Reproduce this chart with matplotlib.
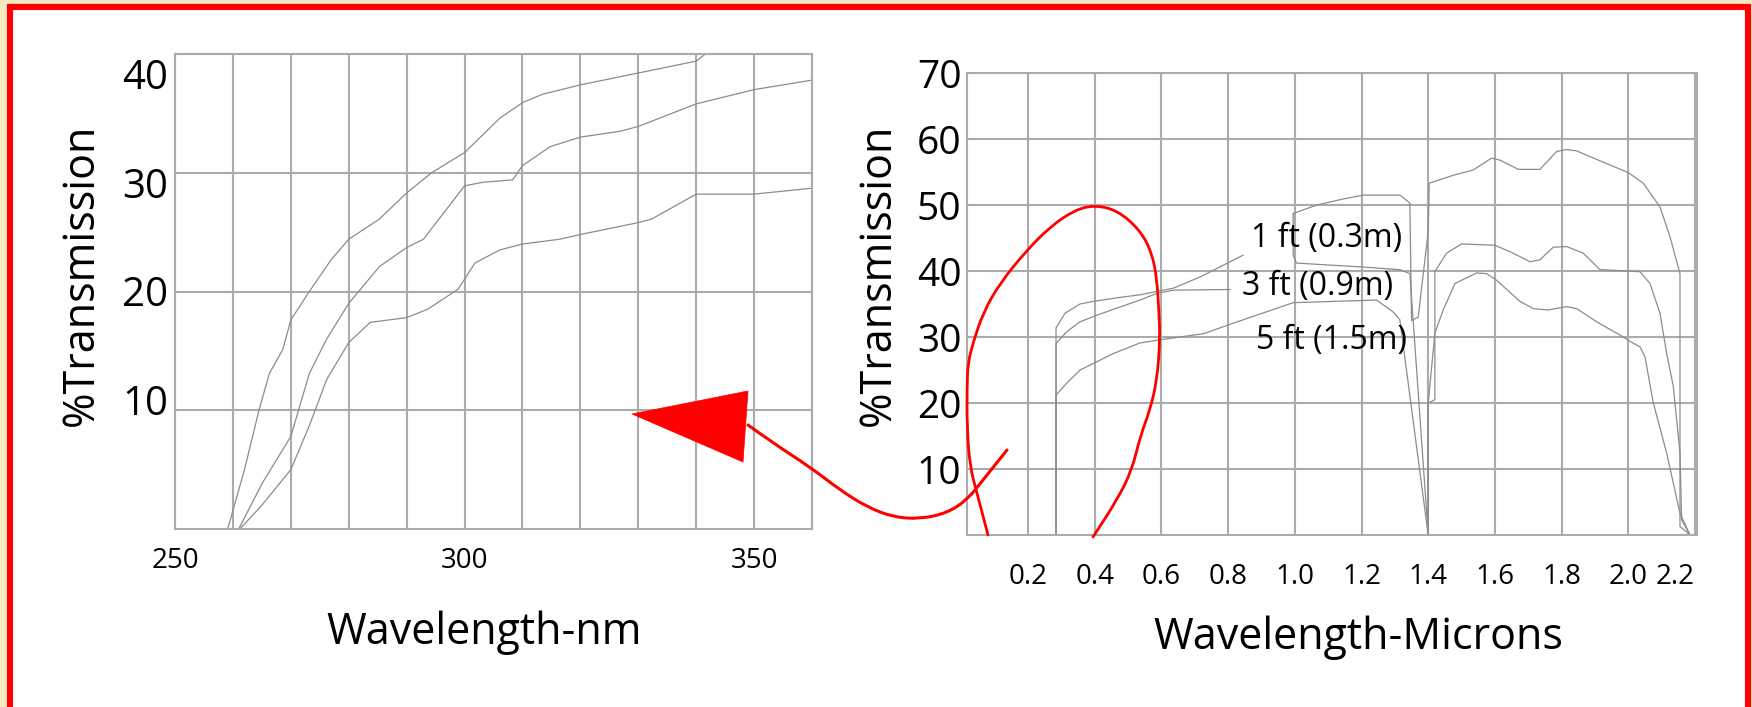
import matplotlib
matplotlib.use("Agg")
import matplotlib.pyplot as plt
from matplotlib.patches import Rectangle, Polygon, PathPatch
from matplotlib.path import Path
import numpy as np

plt.rcParams['font.family'] = ['Open Sans', 'DejaVu Sans']

# ...   data

# left panel: UV transmission, wavelength in nm
nm_1ft_x = [259.1, 262, 264.5, 266.3, 268.6, 270, 273.2, 277, 280, 285.3, 290, 294.3, 300, 306.1, 310, 313.4, 320, 330, 340, 341.6]
nm_1ft_y = [0, 5, 10.0, 13.1, 15.1, 17.6, 20, 22.7, 24.4, 26.1, 28.3, 30, 31.7, 34.6, 35.9, 36.6, 37.4, 38.4, 39.4, 40]
nm_3ft_x = [261, 265, 270, 273.2, 276.2, 280, 285.3, 290, 292.9, 295.9, 300, 303.2, 308.3, 310, 314.8, 320, 326.9, 330, 340, 350, 360]
nm_3ft_y = [0, 3.8, 7.8, 13.1, 16.0, 19.0, 22.1, 23.7, 24.4, 26.3, 28.9, 29.2, 29.4, 30.6, 32.2, 33.0, 33.5, 33.9, 35.8, 37.0, 37.8]
nm_5ft_x = [261.2, 265, 270, 273.2, 276.2, 280, 283.7, 290, 293.6, 298.9, 301.8, 306.1, 310, 316.4, 320, 330, 332.3, 340, 350, 360]
nm_5ft_y = [0, 2.0, 5.0, 8.7, 12.6, 15.7, 17.4, 17.8, 18.5, 20.2, 22.4, 23.5, 24.0, 24.4, 24.8, 25.8, 26.1, 28.2, 28.2, 28.7]

# right panel: transmission vs wavelength in microns (nan = hidden behind a label)
um_1ft_x = [0.284, 0.284, 0.311, 0.356, 0.396, 0.476, 0.536, 0.586, 0.636, 0.716, 0.845, np.nan,
            0.995, 1.066, 1.144, 1.205, 1.315, 1.345, 1.35, 1.37, 1.40, 1.403, 1.475, 1.535, 1.59,
            1.615, 1.67, 1.735, 1.785, 1.815, 1.845, 1.915, 2.0, 2.045, 2.095, 2.125, 2.155, 2.155, 2.185]
um_1ft_y = [0, 31.4, 33.6, 35.0, 35.4, 36.0, 36.4, 36.9, 37.4, 39.1, 42.4, np.nan,
            48.7, 50.0, 50.9, 51.5, 51.5, 50.3, 32.5, 33, 46, 53.3, 54.5, 55.3, 57.1,
            56.8, 55.4, 55.4, 58.1, 58.4, 58.2, 56.7, 54.9, 53.3, 49.7, 45.2, 39.6, 1.3, 0]
um_3ft_x = [0.284, 0.284, 0.316, 0.356, 0.396, 0.456, 0.536, 0.586, 0.636, 0.806, np.nan,
            0.995, 0.995, 1.005, 1.205, 1.315, 1.345, 1.40, 1.40, 1.42, 1.42, 1.455, 1.50, 1.60,
            1.655, 1.705, 1.735, 1.775, 1.815, 1.865, 1.915, 2.035, 2.065, 2.095, 2.115, 2.135,
            2.155, 2.16, 2.185]
um_3ft_y = [0, 29.0, 30.8, 32.3, 33.1, 34.2, 35.6, 36.6, 37.1, 37.2, np.nan,
            48.7, 42.4, 41.2, 40.6, 40.2, 39.6, 0, 20, 20.5, 39.9, 42.7, 44.1, 43.9,
            42.7, 41.4, 41.7, 43.6, 43.7, 42.7, 40.2, 39.9, 38.1, 33.6, 27.5, 22.5,
            12.4, 2.3, 0]
um_5ft_x = [0.284, 0.284, 0.316, 0.356, 0.396, 0.456, 0.536, 0.586, 0.726, 0.816, 0.995, 1.245,
            1.295, 1.315, 1.40, 1.40, 1.42, 1.445, 1.48, 1.545, 1.575, 1.605, 1.675, 1.715, 1.76,
            1.815, 1.845, 1.905, 1.975, 2.0, 2.035, 2.05, 2.075, 2.115, 2.155, 2.185]
um_5ft_y = [0, 21.2, 23.0, 25.0, 26.0, 27.5, 29.1, 29.5, 30.5, 32.1, 35.2, 35.6,
            33.8, 32.6, 0, 20, 30.6, 34.1, 38.1, 39.7, 39.6, 38.6, 35.4, 34.3, 34.1,
            34.6, 34.3, 32.3, 30.3, 29.5, 28.5, 27.0, 20.0, 12.4, 3.3, 0]

curve_labels = ['1 ft (0.3m)', '3 ft (0.9m)', '5 ft (1.5m)']
curve_label_x = [1.096, 1.069, 1.111]
curve_label_y = [45.0, 37.6, 29.5]

nm_ticks = list(range(250, 361, 10))
nm_tick_labels = ['250', '', '', '', '', '300', '', '', '', '', '350', '']
pct_left_grid = [10, 20, 30, 40]
pct_left_label_pos = [10.9, 20.1, 29.2, 38.3]   # labels sit a little off the grid in the original
pct_left_labels = ['10', '20', '30', '40']

um_ticks = [0.2, 0.4, 0.6, 0.8, 1.0, 1.2, 1.4, 1.6, 1.8, 2.0, 2.2]
um_tick_labels = ['0.2', '0.4', '0.6', '0.8', '1.0', '1.2', '1.4', '1.6', '1.8', '2.0', '2.2']
pct_right_ticks = [10, 20, 30, 40, 50, 60, 70]

# red hand-drawn markup, in image pixels
arrow_head = [(632, 414), (748, 391), (743, 462)]
arrow_tail = [(748, 425), (773, 443), (810, 467), (840, 490), (867, 507), (893, 517),
              (920, 519), (947, 513), (967, 500), (983, 480), (1007, 450)]
loop = [(988, 535), (977, 493), (970, 467), (967, 427), (967, 387), (968, 363), (973, 343),
        (983, 313), (1000, 283), (1027, 250), (1050, 227), (1073, 211), (1093, 205),
        (1117, 210), (1140, 230), (1152, 253), (1157, 280), (1159, 313), (1160, 340),
        (1157, 380), (1150, 410), (1140, 437), (1132, 470), (1117, 500), (1093, 537)]


def smooth_path(pts):
    # quadratic bezier through the midpoints, so a pen stroke looks like a pen stroke
    pts = np.asarray(pts, float)
    verts = [pts[0]]
    codes = [Path.MOVETO]
    for i in range(1, len(pts) - 1):
        verts += [pts[i], (pts[i] + pts[i + 1]) / 2]
        codes += [Path.CURVE3, Path.CURVE3]
    verts.append(pts[-1])
    codes.append(Path.LINETO)
    return Path(verts, codes)


# ...   figure
W, H = 1752, 707
fig = plt.figure(figsize=(W / 100, H / 100), dpi=100, facecolor='#f6e8c0')

# white sheet with red frame
fig.add_artist(Rectangle((10 / W, -0.05), 1738 / W, 1 - 7 / H + 0.05, transform=fig.transFigure,
                         facecolor='white', edgecolor='red', linewidth=4.4, zorder=-1))

grid_c = '#ababab'
line_c = '#8c8c8c'


def px_axes(l, t, r, b):
    return fig.add_axes([l / W, 1 - b / H, (r - l) / W, (b - t) / H])


def style(ax):
    ax.set_facecolor('white')
    for s in ax.spines.values():
        s.set_color(grid_c)
        s.set_linewidth(1.5)
    ax.grid(True, which='major', color=grid_c, linewidth=1.5)
    ax.tick_params(which='both', length=0, colors='black')


# left
ax1 = px_axes(175, 54, 812, 529)
style(ax1)
for x, y in [(nm_1ft_x, nm_1ft_y), (nm_3ft_x, nm_3ft_y), (nm_5ft_x, nm_5ft_y)]:
    ax1.plot(x, y, color=line_c, linewidth=0.9)
ax1.set(xlim=(250, 360), ylim=(0, 40))
ax1.set_xticks(nm_ticks, nm_tick_labels, fontsize=20)
ax1.set_yticks(pct_left_grid, [''] * len(pct_left_grid))
ax1.set_yticks(pct_left_label_pos, pct_left_labels, minor=True, fontsize=29)
ax1.tick_params(axis='x', pad=13)
ax1.tick_params(axis='y', which='minor', pad=5)
ax1.set_xlabel('Wavelength-nm', fontsize=31, va='center')
ax1.xaxis.set_label_coords((484 - 175) / 637, (529 - 633) / 475)
ax1.set_ylabel('%Transmission', fontsize=31, va='center')
ax1.yaxis.set_label_coords((82 - 175) / 637, (529 - 275) / 475)

# right
ax2 = px_axes(967, 73, 1697, 535)
style(ax2)
for x, y in [(um_1ft_x, um_1ft_y), (um_3ft_x, um_3ft_y), (um_5ft_x, um_5ft_y)]:
    ax2.plot(x, y, color=line_c, linewidth=0.9)
ax2.set(xlim=(0.017, 2.206), ylim=(0, 70))
ax2.set_xticks(um_ticks, um_tick_labels, fontsize=20)
ax2.get_xticklabels()[-1].set_horizontalalignment('right')
ax2.set_yticks(pct_right_ticks, [str(v) for v in pct_right_ticks], fontsize=28)
ax2.tick_params(axis='x', pad=20)
ax2.tick_params(axis='y', pad=4)
for lab, x, y in zip(curve_labels, curve_label_x, curve_label_y):
    ax2.text(x, y, lab, fontsize=23, ha='center', va='center')
ax2.set_xlabel('Wavelength-Microns', fontsize=31, va='center')
ax2.xaxis.set_label_coords((1358 - 967) / 730, (535 - 638) / 462)
ax2.set_ylabel('%Transmission', fontsize=31, va='center')
ax2.yaxis.set_label_coords((879 - 967) / 730, (535 - 275) / 462)

# red markup on top, drawn in pixel space
ov = fig.add_axes([0, 0, 1, 1], zorder=10)
ov.set_xlim(0, W)
ov.set_ylim(H, 0)
ov.axis('off')
ov.patch.set_visible(False)
ov.add_patch(Polygon(arrow_head, closed=True, facecolor='red', edgecolor='red', linewidth=0.5))
ov.add_patch(PathPatch(smooth_path(arrow_tail), facecolor='none', edgecolor='red',
                       linewidth=2.2, capstyle='round'))
ov.add_patch(PathPatch(smooth_path(loop), facecolor='none', edgecolor='red',
                       linewidth=2.0, capstyle='round', joinstyle='round'))

fig.savefig('out.png', dpi=100, facecolor=fig.get_facecolor())
